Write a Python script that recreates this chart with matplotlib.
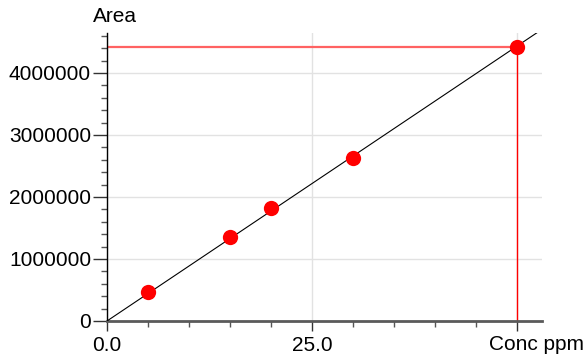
import numpy as np
import matplotlib
matplotlib.use("Agg")
import matplotlib.pyplot as plt
from matplotlib.ticker import MultipleLocator, FixedLocator

plt.rcParams['font.family'] = ['Liberation Sans', 'DejaVu Sans']

# Calibration standards
conc_ppm = [5, 15, 20, 30, 50]
area = [475000, 1350000, 1827000, 2634000, 4425000]

x_ticks = [0, 25, 50]
x_tick_labels = ["0.0", "25.0", ""]
y_ticks = [0, 1000000, 2000000, 3000000, 4000000]
y_tick_labels = ["0", "1000000", "2000000", "3000000", "4000000"]

x_max = 53.0
y_max = 4645000

fig = plt.figure(figsize=(5.84, 3.58), dpi=100)
ax = fig.add_axes([107 / 584, 37 / 358, 435 / 584, 288 / 358])

x = np.array(conc_ppm, dtype=float)
y = np.array(area, dtype=float)

# Least-squares fit through the origin
slope = np.sum(x * y) / np.sum(x * x)
fit_x = np.array([0.0, x_max])
ax.plot(fit_x, slope * fit_x, color="black", lw=0.8, zorder=3)

# Guide lines to the highest standard
ax.plot([0, x[-1]], [y[-1], y[-1]], color="#ff6262", lw=1.6, zorder=2)
ax.plot([x[-1], x[-1]], [0, y[-1]], color="#ff0000", lw=1.0, zorder=2)

ax.plot(x, y, linestyle="none", marker="o", ms=11, color="#ff0000",
        markeredgewidth=0, zorder=4)

ax.set_xlim(0, x_max)
ax.set_ylim(0, y_max)

ax.xaxis.set_major_locator(FixedLocator(x_ticks))
ax.set_xticklabels(x_tick_labels)
ax.xaxis.set_minor_locator(MultipleLocator(5))
ax.yaxis.set_major_locator(FixedLocator(y_ticks))
ax.set_yticklabels(y_tick_labels)
ax.yaxis.set_minor_locator(MultipleLocator(200000))

ax.grid(True, which="major", color="#e2e2e2", lw=1.0, zorder=0)
ax.set_axisbelow(True)

for side in ("top", "right"):
    ax.spines[side].set_visible(False)
ax.spines["left"].set_color("black")
ax.spines["left"].set_linewidth(1.0)
ax.spines["bottom"].set_color("#5a5a5a")
ax.spines["bottom"].set_linewidth(2.0)

ax.tick_params(axis="y", which="major", length=10, width=1.0, pad=1.5,
               labelsize=15, color="#333333")
ax.tick_params(axis="y", which="minor", length=4.5, width=1.0, color="#555555")
ax.tick_params(axis="x", which="major", length=7, width=1.0, pad=4,
               labelsize=15, color="#333333")
ax.tick_params(axis="x", which="minor", length=4, width=1.0, color="#555555")

fig.text(93 / 584, 1 - 17 / 358, "Area", fontsize=15, ha="left", va="center")
fig.text(584 / 584, 1 - 344 / 358, "Conc ppm", fontsize=15, ha="right",
         va="center")

fig.savefig("out.png", dpi=100)
